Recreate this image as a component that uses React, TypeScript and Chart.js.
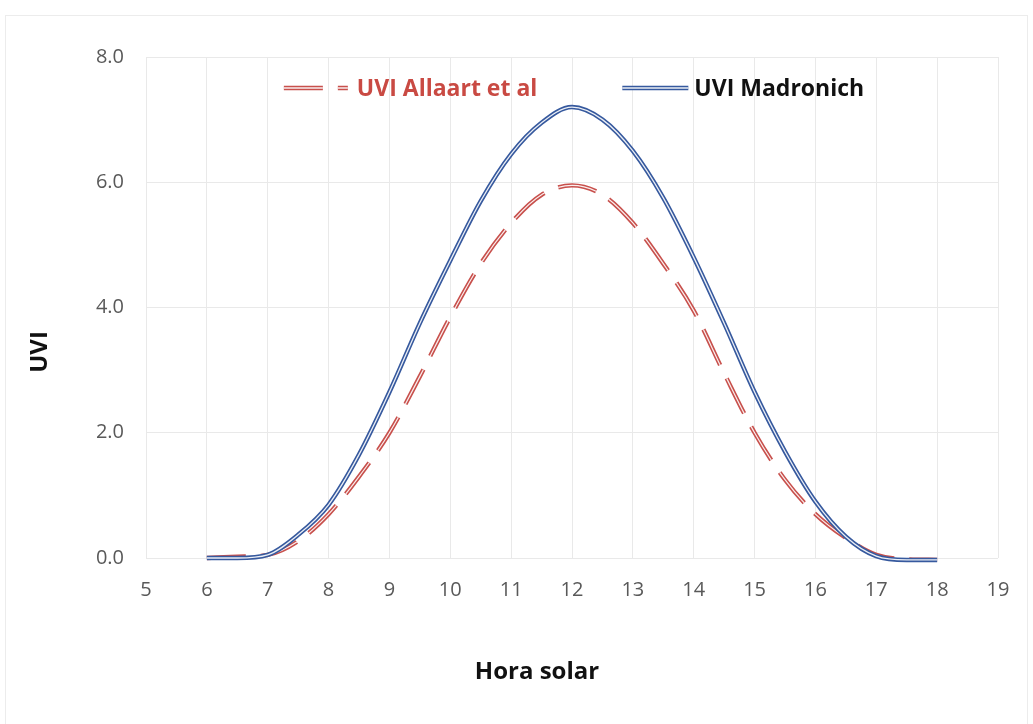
import React, { useEffect, useRef } from "react";
import { Chart, registerables } from "chart.js";

Chart.register(...registerables);

const hours = [6, 6.5, 7, 7.5, 8, 8.5, 9, 9.5, 10, 10.5, 11, 11.5, 12, 12.5, 13, 13.5, 14, 14.5, 15, 15.5, 16, 16.5, 17, 17.5, 18];
const uviAllaart = [0.0, 0.02, 0.05, 0.27, 0.7, 1.3, 2.0, 2.9, 3.85, 4.7, 5.35, 5.8, 5.95, 5.8, 5.35, 4.7, 3.95, 2.95, 2.0, 1.25, 0.7, 0.32, 0.05, -0.02, -0.03];
const uviMadronich = [0.0, 0.0, 0.05, 0.37, 0.85, 1.65, 2.65, 3.75, 4.75, 5.7, 6.45, 6.95, 7.2, 7.0, 6.5, 5.75, 4.8, 3.75, 2.65, 1.7, 0.9, 0.34, 0.03, -0.03, -0.03];

const labelAllaart = "UVI Allaart et al";
const labelMadronich = "UVI Madronich";
const xTitle = "Hora solar";
const yTitle = "UVI";

const RED = "#c8504c";
const BLUE = "#36599e";
const DASH = [39, 15];
const FONT = '"Open Sans", "Liberation Sans", sans-serif';

const toXY = (vals: number[]) => vals.map((v, i) => ({ x: hours[i], y: v }));

const legendPlugin = {
  id: "insideLegend",
  afterDatasetsDraw(chart: any) {
    const { ctx, chartArea } = chart;
    const items = [
      { text: labelAllaart, line: RED, textColor: "#c94a43", dash: DASH, sample: 64, gap: 9 },
      { text: labelMadronich, line: BLUE, textColor: "#111111", dash: [] as number[], sample: 66, gap: 6 },
    ];
    const between = 85;
    ctx.save();
    ctx.font = `bold 23px ${FONT}`;
    const widths = items.map((it) => it.sample + it.gap + ctx.measureText(it.text).width);
    const total = widths.reduce((a, b) => a + b, 0) + between;
    let x = (chartArea.left + chartArea.right) / 2 + 2 - total / 2;
    const y = chartArea.top + 31;
    items.forEach((it, i) => {
      ctx.setLineDash(it.dash);
      ctx.lineCap = "butt";
      ctx.strokeStyle = it.line;
      ctx.lineWidth = 4.5;
      ctx.beginPath();
      ctx.moveTo(x, y);
      ctx.lineTo(x + it.sample, y);
      ctx.stroke();
      ctx.strokeStyle = "rgba(255,255,255,0.9)";
      ctx.lineWidth = 1.3;
      ctx.beginPath();
      ctx.moveTo(x, y);
      ctx.lineTo(x + it.sample, y);
      ctx.stroke();
      ctx.setLineDash([]);
      ctx.fillStyle = it.textColor;
      ctx.textBaseline = "middle";
      ctx.textAlign = "left";
      ctx.fillText(it.text, x + it.sample + it.gap, y + 1);
      x += widths[i] + between;
    });
    ctx.restore();
  },
};

const axisTitlePlugin = {
  id: "axisTitles",
  afterDraw(chart: any) {
    const { ctx } = chart;
    ctx.save();
    ctx.font = `bold 24px ${FONT}`;
    ctx.fillStyle = "#111111";
    ctx.textAlign = "center";
    ctx.textBaseline = "middle";
    ctx.fillText(xTitle, 537, 672);
    ctx.translate(40, 352);
    ctx.rotate(-Math.PI / 2);
    ctx.fillText(yTitle, 0, 0);
    ctx.restore();
  },
};

const bgPlugin = {
  id: "bgFrame",
  beforeDraw(chart: any) {
    const { ctx, width, height } = chart;
    ctx.save();
    ctx.fillStyle = "#ffffff";
    ctx.fillRect(0, 0, width, height);
    ctx.strokeStyle = "#ececec";
    ctx.lineWidth = 1;
    ctx.strokeRect(5.5, 15.5, width - 11, height - 10);
    ctx.restore();
  },
};

export default function App() {
  const canvasRef = useRef<HTMLCanvasElement | null>(null);

  useEffect(() => {
    if (!canvasRef.current) return;
    const chart = new Chart(canvasRef.current, {
      type: "line",
      data: {
        datasets: [
          {
            label: labelMadronich + " overlay",
            data: toXY(uviMadronich),
            borderColor: "rgba(255,255,255,0.9)",
            borderWidth: 1.3,
            pointRadius: 0,
            cubicInterpolationMode: "monotone",
            fill: false,
            order: 0,
            clip: 10,
          },
          {
            label: labelMadronich,
            data: toXY(uviMadronich),
            borderColor: BLUE,
            borderWidth: 4.5,
            pointRadius: 0,
            cubicInterpolationMode: "monotone",
            fill: false,
            order: 1,
            clip: 10,
          },
          {
            label: labelAllaart + " overlay",
            data: toXY(uviAllaart),
            borderColor: "rgba(255,255,255,0.9)",
            borderWidth: 1.2,
            borderDash: DASH,
            pointRadius: 0,
            cubicInterpolationMode: "monotone",
            fill: false,
            order: 2,
            clip: 10,
          },
          {
            label: labelAllaart,
            data: toXY(uviAllaart),
            borderColor: RED,
            borderWidth: 4.4,
            borderDash: DASH,
            pointRadius: 0,
            cubicInterpolationMode: "monotone",
            fill: false,
            order: 3,
            clip: 10,
          },
        ],
      },
      options: {
        animation: false,
        responsive: true,
        maintainAspectRatio: false,
        layout: { padding: { top: 57, right: 35, bottom: 0, left: 0 } },
        plugins: {
          legend: { display: false },
          tooltip: { enabled: false },
        },
        scales: {
          x: {
            type: "linear",
            min: 5,
            max: 19,
            ticks: {
              stepSize: 1,
              color: "#595959",
              font: { family: FONT, size: 20 },
              padding: 20,
            },
            grid: { color: "#e9e9e9", drawTicks: false },
            border: { display: false },
            title: { display: false, text: xTitle },
            afterFit: (scale: any) => {
              scale.height = 166;
            },
          },
          y: {
            min: 0,
            max: 8,
            ticks: {
              stepSize: 2,
              color: "#595959",
              font: { family: FONT, size: 20 },
              padding: 22,
              callback: (v: any) => Number(v).toFixed(1),
            },
            grid: { color: "#e9e9e9", drawTicks: false },
            border: { display: false },
            title: { display: false, text: yTitle },
            afterFit: (scale: any) => {
              scale.width = 146;
            },
          },
        },
      },
      plugins: [bgPlugin, legendPlugin, axisTitlePlugin],
    });
    return () => chart.destroy();
  }, []);

  return (
    <div style={{ position: "fixed", left: 0, top: 0, width: 1033, height: 724, background: "#fff" }}>
      <canvas ref={canvasRef} />
    </div>
  );
}
